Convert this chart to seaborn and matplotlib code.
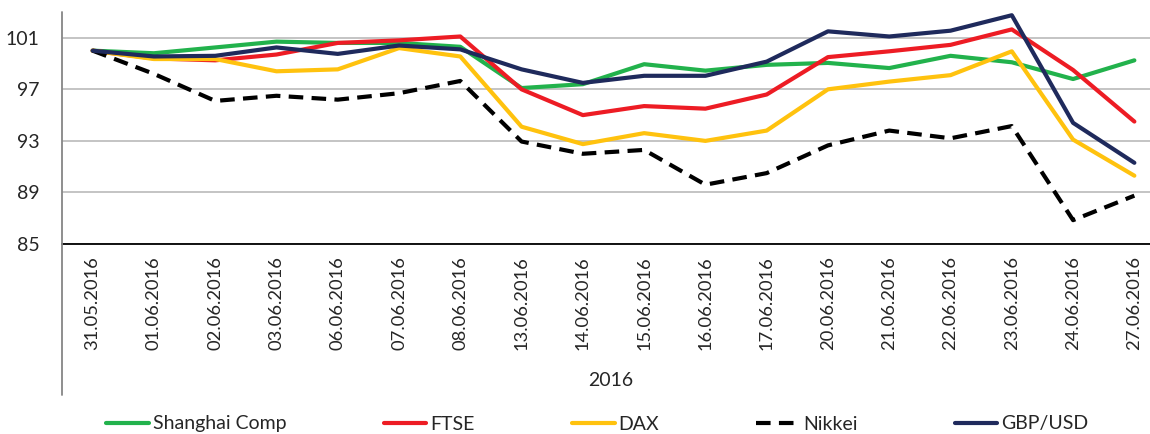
import matplotlib
matplotlib.use("Agg")
import matplotlib.pyplot as plt
from matplotlib.lines import Line2D
import pandas as pd
import seaborn as sns

# dates on the category axis
dates = ["31.05.2016", "01.06.2016", "02.06.2016", "03.06.2016", "06.06.2016",
         "07.06.2016", "08.06.2016", "13.06.2016", "14.06.2016", "15.06.2016",
         "16.06.2016", "17.06.2016", "20.06.2016", "21.06.2016", "22.06.2016",
         "23.06.2016", "24.06.2016", "27.06.2016"]

# index values (31.05.2016 = 100)
shanghai = [100.0, 99.8, 100.25, 100.7, 100.6, 100.6, 100.3, 97.1, 97.4, 98.95,
            98.45, 98.9, 99.05, 98.65, 99.6, 99.1, 97.8, 99.25]
ftse = [100.0, 99.4, 99.25, 99.7, 100.6, 100.8, 101.1, 97.0, 95.0, 95.7,
        95.5, 96.6, 99.5, 99.95, 100.45, 101.65, 98.5, 94.5]
dax = [100.0, 99.35, 99.35, 98.4, 98.55, 100.2, 99.55, 94.1, 92.75, 93.6,
       93.0, 93.8, 97.0, 97.6, 98.1, 99.95, 93.1, 90.3]
nikkei = [100.0, 98.2, 96.1, 96.5, 96.2, 96.7, 97.65, 92.95, 92.0, 92.3,
          89.6, 90.5, 92.65, 93.8, 93.2, 94.15, 86.85, 88.75]
gbpusd = [100.0, 99.55, 99.6, 100.25, 99.75, 100.4, 100.1, 98.55, 97.5, 98.05,
          98.05, 99.15, 101.5, 101.1, 101.55, 102.75, 94.4, 91.3]

series = {
    "Shanghai Comp": shanghai,
    "FTSE": ftse,
    "DAX": dax,
    "Nikkei": nikkei,
    "GBP/USD": gbpusd,
}
colors = {
    "Shanghai Comp": "#22B24C",
    "FTSE": "#ED1C24",
    "DAX": "#FFC20E",
    "Nikkei": "#000000",
    "GBP/USD": "#1F2A5C",
}

sns.set_style("white")
plt.rcParams["font.family"] = ["Lato", "DejaVu Sans"]

fig = plt.figure(figsize=(11.5, 4.34), dpi=100)
W, H = 1150, 434
ax = fig.add_axes([62 / W, 1 - 244 / H, (1165 - 62) / W, (244 - 12) / H])

pos = list(range(len(dates)))
for name, vals in series.items():
    df = pd.DataFrame({"x": pos, "y": vals})
    if name == "Nikkei":
        sns.lineplot(data=df, x="x", y="y", ax=ax, color=colors[name], lw=3,
                     linestyle=(0, (3.5, 2)), label=name)
    else:
        sns.lineplot(data=df, x="x", y="y", ax=ax, color=colors[name], lw=3,
                     label=name)

ax.set_xlim(-0.5, len(dates) - 0.5)
ax.set_ylim(85, 103)
ax.set_yticks([85, 89, 93, 97, 101])
ax.set_xticks(pos)
ax.set_xticklabels(dates, rotation=90, fontsize=13.2)
ax.tick_params(axis="y", labelsize=14, length=0, pad=16)
ax.tick_params(axis="x", length=0, pad=9)
ax.yaxis.grid(True, color="#BFBFBF", lw=1.3)
ax.set_axisbelow(True)
for s in ["top", "right", "left"]:
    ax.spines[s].set_visible(False)
ax.spines["bottom"].set_color("black")
ax.spines["bottom"].set_linewidth(1.3)
ax.set_xlabel("")
ax.set_ylabel("")

# vertical axis line running down through the label area
fig.add_artist(Line2D([62 / W, 62 / W], [1 - 12 / H, 1 - 395 / H],
                      color="#868686", lw=1.3))

fig.text(611 / W, 1 - 381 / H, "2016", ha="center", va="center", fontsize=14)

handles, labels = ax.get_legend_handles_labels()
ax.get_legend().remove()
fig.legend(handles, labels, loc="center left", bbox_to_anchor=(106 / W, 1 - 424 / H),
           ncol=5, frameon=False, fontsize=14, handlelength=2.2,
           handletextpad=0.2, columnspacing=5.0, borderaxespad=0, borderpad=0)

fig.savefig("out.png", dpi=100)
